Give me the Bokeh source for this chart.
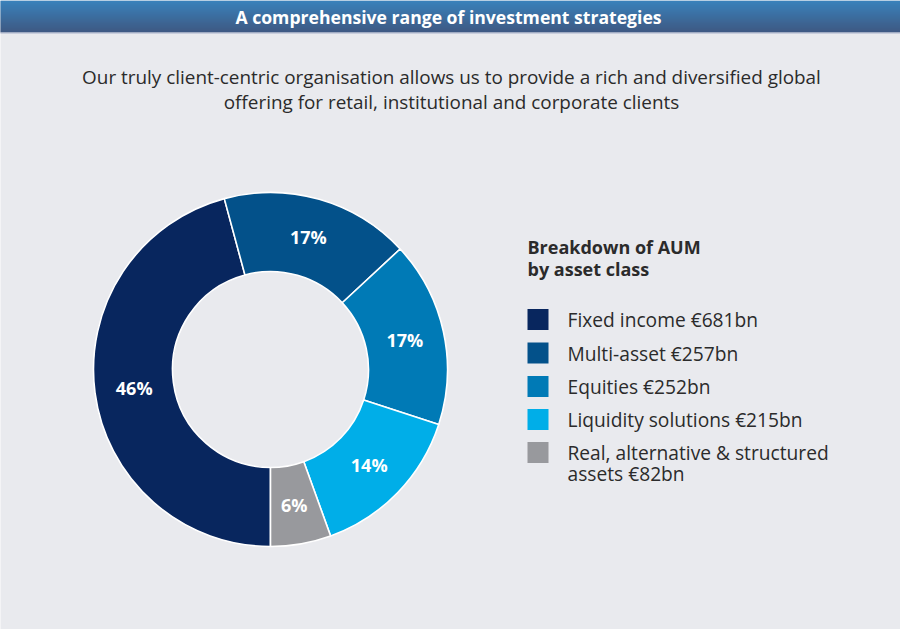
import math
from bokeh.plotting import figure
from bokeh.models import Range1d, ColumnDataSource
from bokeh.core.properties import value
from bokeh.embed import file_html
from bokeh.resources import INLINE

# ---------------- data ----------------
categories = ["Fixed income", "Multi-asset", "Equities", "Liquidity solutions",
              "Real, alternative & structured assets"]
aum_bn = [681, 257, 252, 215, 82]
legend_lines = [["Fixed income €681bn"], ["Multi-asset €257bn"], ["Equities €252bn"],
                ["Liquidity solutions €215bn"], ["Real, alternative & structured", "assets €82bn"]]
colors = ["#08265E", "#03518A", "#007AB6", "#00AEE8", "#98999D"]

title = "A comprehensive range of investment strategies"
subtitle = ["Our truly client-centric organisation allows us to provide a rich and diversified global",
            "offering for retail, institutional and corporate clients"]
legend_title = ["Breakdown of AUM", "by asset class"]

BG = "#E9EAEE"
W, H = 900, 629
FONT = "Open Sans"


def fx(x):  # reference page x -> figure x
    return x


def fy(y):  # reference page y -> figure y (upwards)
    return H - y


p = figure(width=W, height=H, output_backend="svg", toolbar_location=None,
           x_range=Range1d(0, W), y_range=Range1d(0, H), min_border=0,
           background_fill_color=BG, border_fill_color=BG, outline_line_color=None)
p.axis.visible = False
p.grid.visible = False

# ---------------- header bar (gradient) ----------------
top_c = (0x00, 0x60, 0xAA)
bot_c = (0x06, 0x29, 0x60)
n = 32
for i in range(n):
    t = i / (n - 1)
    c = tuple(int(round(top_c[k] + (bot_c[k] - top_c[k]) * t)) for k in range(3))
    p.quad(left=-5, right=W + 5, top=fy(i), bottom=fy(i + 1), fill_color="#%02x%02x%02x" % c,
           line_color=None)
p.quad(left=-5, right=W + 5, top=fy(32), bottom=fy(33.5), fill_color="#C9CEDD", line_color=None)
p.text(x=[fx(448)], y=[fy(16.5)], text=[title], text_font=value(FONT), text_font_size="17.6px",
       text_font_style="bold", text_color="white", text_align="center", text_baseline="middle")

# ---------------- subtitle ----------------
p.text(x=[fx(451)] * 2, y=[fy(76.5), fy(101.5)], text=subtitle, text_font=value(FONT),
       text_font_size="18.9px", text_color="#2B2B2B", text_align="center", text_baseline="middle")

# ---------------- donut ----------------
cx, cy = fx(270), fy(369)
r_out, r_in = 177, 98
total = sum(aum_bn)
starts, ends, lx, ly, labels = [], [], [], [], []
cum = 0.0
for v in aum_bn:
    a0 = -math.pi / 2 - 2 * math.pi * cum / total
    cum += v
    a1 = -math.pi / 2 - 2 * math.pi * cum / total
    starts.append(a0)
    ends.append(a1)
    mid = (a0 + a1) / 2
    rm = (r_out + r_in) / 2
    lx.append(cx + rm * math.cos(mid))
    ly.append(cy + rm * math.sin(mid))
    labels.append("%d%%" % round(100 * v / total))

src = ColumnDataSource(dict(start=starts, end=ends, color=colors, cat=categories))
p.annular_wedge(x=cx, y=cy, inner_radius=r_in, outer_radius=r_out, start_angle="start",
                end_angle="end", direction="clock", fill_color="color", line_color="white",
                line_width=1.6, source=src)
p.text(x=lx, y=ly, text=labels, text_font=value(FONT), text_font_size="18px",
       text_font_style="bold", text_color="white", text_align="center", text_baseline="middle")

# ---------------- legend ----------------
p.text(x=[fx(527)] * 2, y=[fy(246), fy(268)], text=legend_title, text_font=value(FONT),
       text_font_size="18px", text_font_style="bold", text_color="#2B2B2B",
       text_align="left", text_baseline="middle")
row_y = [319, 352.5, 386, 419, 452]
p.rect(x=[fx(537.5)] * len(colors), y=[fy(y) for y in row_y], width=21, height=21,
       fill_color=colors, line_color=None)
tx, ty, tt = [], [], []
for y, lines in zip(row_y, legend_lines):
    for j, s in enumerate(lines):
        tx.append(fx(567))
        ty.append(fy(y + 20.5 * j))
        tt.append(s)
p.text(x=tx, y=ty, text=tt, text_font=value(FONT), text_font_size="19.2px", text_color="#2B2B2B",
       text_align="left", text_baseline="middle")

open("out.html", "w").write(file_html(p, INLINE))
